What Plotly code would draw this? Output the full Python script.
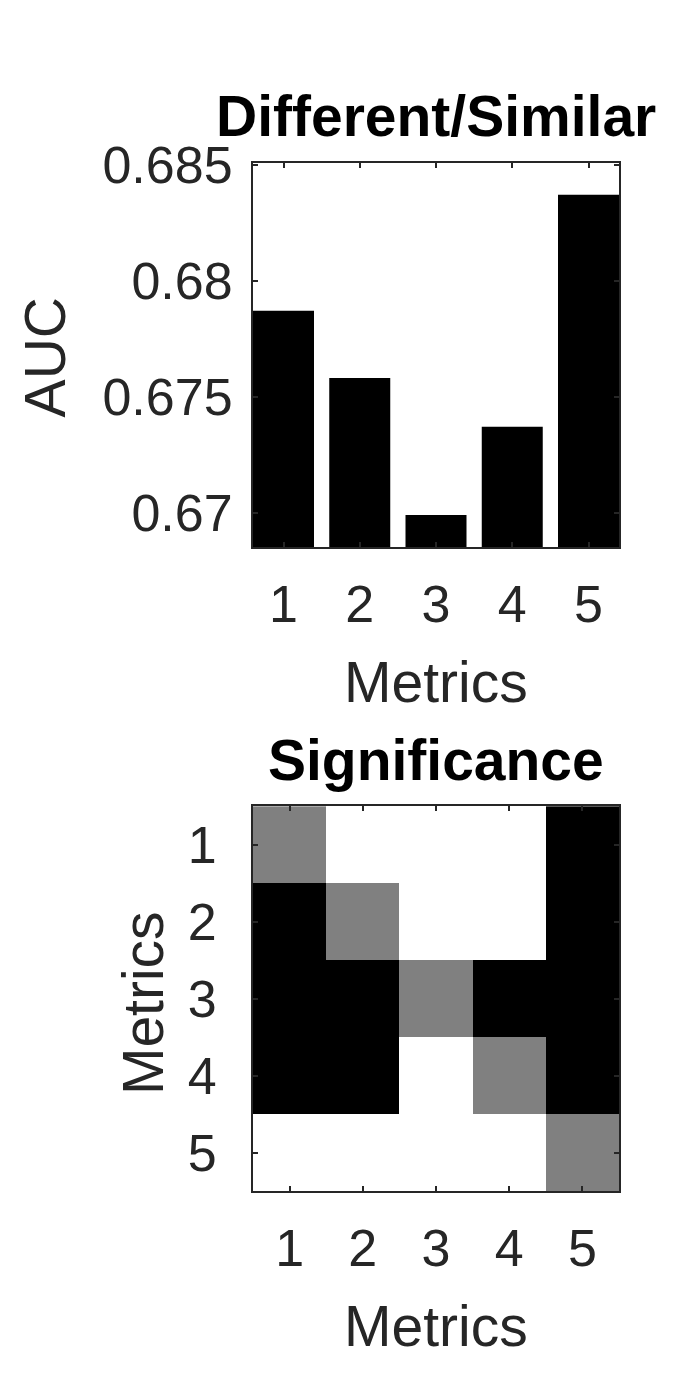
import plotly.graph_objects as go

W, H = 677, 1387

# data
metrics = [1, 2, 3, 4, 5]
auc = [0.6787, 0.6758, 0.6699, 0.6737, 0.6837]
auc_ticks = [0.67, 0.675, 0.68, 0.685]
auc_tick_text = ["0.67", "0.675", "0.68", "0.685"]

# 1 = significant (black), 0 = not (white), 0.5 = diagonal (grey)
significance = [
    [0.5, 0, 0, 0, 1],
    [1, 0.5, 0, 0, 1],
    [1, 1, 0.5, 1, 1],
    [1, 1, 0, 0.5, 1],
    [0, 0, 0, 0, 0.5],
]

FONT = "Liberation Sans, Arial, Helvetica, sans-serif"
AXIS_GREY = "#262626"


def px_x(p):
    return p / W


def px_y(p):
    return 1 - p / H


fig = go.Figure()

fig.add_trace(
    go.Bar(
        x=metrics,
        y=auc,
        width=0.8,
        marker=dict(color="black", line=dict(width=0)),
        xaxis="x",
        yaxis="y",
        showlegend=False,
    )
)

fig.add_trace(
    go.Heatmap(
        x=metrics,
        y=metrics,
        z=significance,
        zmin=0,
        zmax=1,
        colorscale=[[0, "#ffffff"], [0.5, "#808080"], [1, "#000000"]],
        showscale=False,
        xaxis="x2",
        yaxis="y2",
    )
)

axis_common = dict(
    showline=True,
    linecolor=AXIS_GREY,
    linewidth=2,
    mirror="ticks",
    ticks="inside",
    ticklen=5,
    tickwidth=1.5,
    tickcolor=AXIS_GREY,
    showgrid=False,
    zeroline=False,
    tickfont=dict(family=FONT, size=52, color=AXIS_GREY),
)

fig.update_layout(
    width=W,
    height=H,
    margin=dict(l=0, r=0, t=0, b=0),
    paper_bgcolor="white",
    plot_bgcolor="white",
    xaxis=dict(
        axis_common,
        domain=[px_x(245), px_x(611)],
        anchor="y",
        range=[0.6, 5.4],
        tickvals=metrics,
        ticklabelstandoff=10,
    ),
    yaxis=dict(
        axis_common,
        domain=[px_y(522), px_y(130)],
        anchor="x",
        range=[0.6685, 0.68505],
        tickvals=auc_ticks,
        ticktext=auc_tick_text,
        ticklabelstandoff=8,
    ),
    xaxis2=dict(
        axis_common,
        domain=[px_x(245), px_x(611)],
        anchor="y2",
        range=[0.5, 5.5],
        tickvals=metrics,
        ticklabelstandoff=10,
    ),
    yaxis2=dict(
        axis_common,
        domain=[px_y(1179), px_y(786)],
        anchor="x2",
        range=[5.5, 0.5],
        tickvals=metrics,
        ticklabelstandoff=24,
    ),
)

labels = [
    dict(text="<b>Different/Similar</b>", x=428, y=82, size=57, color="black", angle=0),
    dict(text="Metrics", x=428, y=659, size=57, color=AXIS_GREY, angle=0),
    dict(text="AUC", x=37, y=328, size=57, color=AXIS_GREY, angle=-90),
    dict(text="<b>Significance</b>", x=428, y=739, size=57, color="black", angle=0),
    dict(text="Metrics", x=428, y=1317, size=57, color=AXIS_GREY, angle=0),
    dict(text="Metrics", x=135, y=987, size=57, color=AXIS_GREY, angle=-90),
]
for lab in labels:
    fig.add_annotation(
        text=lab["text"],
        x=px_x(lab["x"]),
        y=px_y(lab["y"]),
        xref="paper",
        yref="paper",
        xanchor="center",
        yanchor="middle",
        textangle=lab["angle"],
        showarrow=False,
        font=dict(family=FONT, size=lab["size"], color=lab["color"]),
    )

fig.write_html("out.html")
